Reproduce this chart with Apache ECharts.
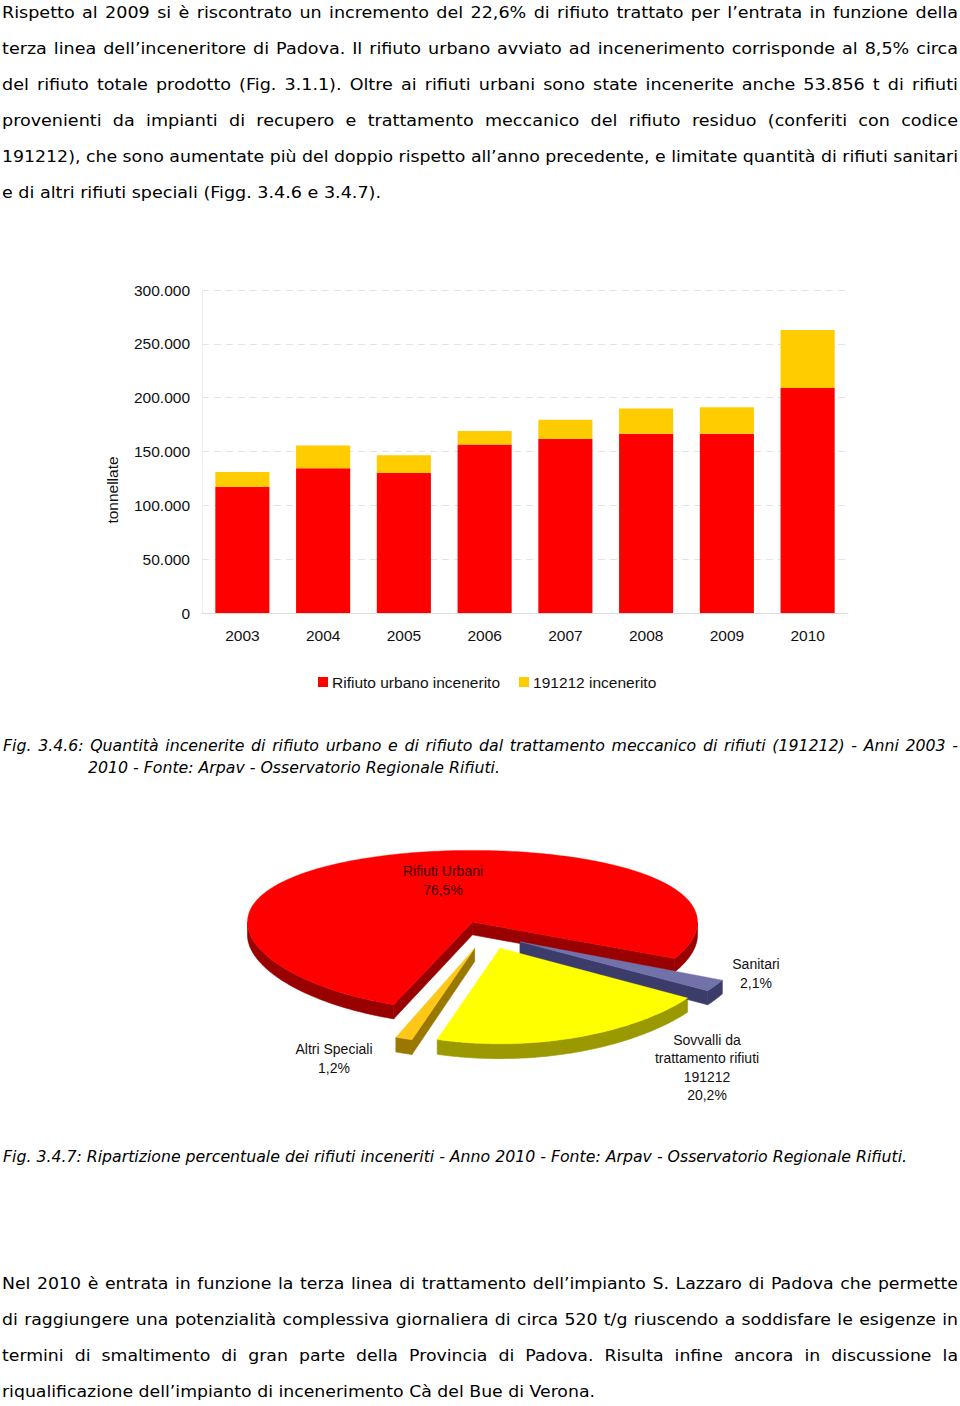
<!DOCTYPE html>
<html>
<head>
<meta charset="utf-8">
<script src="https://cdn.jsdelivr.net/npm/echarts/dist/echarts.min.js"></script>
<style>
  html, body { margin: 0; padding: 0; background: #ffffff; }
  body { width: 960px; height: 1406px; position: relative; overflow: hidden; }
  #chart { position: absolute; left: 0; top: 0; width: 960px; height: 1406px; }
  .ln { position: absolute; white-space: nowrap; font-family: 'DejaVu Sans', sans-serif; font-size: 16px;
        line-height: 20px; height: 20px; color: #000; transform-origin: 0 50%; }
  .it { font-style: italic; }
</style>
</head>
<body>
<div id="chart"></div>
<script>
// ---------------- DATA ----------------
const years = ['2003', '2004', '2005', '2006', '2007', '2008', '2009', '2010'];
const rifiutoUrbano = [117000, 134500, 130000, 156500, 161500, 166500, 166500, 209000];
const incenerito191212 = [14000, 21000, 16500, 12500, 18000, 23500, 24500, 53856];
const barSeriesNames = ['Rifiuto urbano incenerito', '191212 incenerito'];
const yTicks = [0, 50000, 100000, 150000, 200000, 250000, 300000];
const yAxisTitle = 'tonnellate';

const pieNames = ['Rifiuti Urbani', 'Sanitari', 'Sovvalli da\ntrattamento rifiuti\n191212', 'Altri Speciali'];
const pieShares = [76.5, 2.1, 20.2, 1.2];

// ---------------- TEXT ----------------
const para1Lines = [
  'Rispetto al 2009 si è riscontrato un incremento del 22,6% di rifiuto trattato per l’entrata in funzione della',
  'terza linea dell’inceneritore di Padova. Il rifiuto urbano avviato ad incenerimento corrisponde al 8,5% circa',
  'del rifiuto totale prodotto (Fig. 3.1.1). Oltre ai rifiuti urbani sono state incenerite anche 53.856 t di rifiuti',
  'provenienti da impianti di recupero e trattamento meccanico del rifiuto residuo (conferiti con codice',
  '191212), che sono aumentate più del doppio rispetto all’anno precedente, e limitate quantità di rifiuti sanitari',
  'e di altri rifiuti speciali (Figg. 3.4.6 e 3.4.7).'
];
const caption1Lines = [
  'Fig. 3.4.6: Quantità incenerite di rifiuto urbano e di rifiuto dal trattamento meccanico di rifiuti (191212) - Anni 2003 -',
  '2010 - Fonte: Arpav - Osservatorio Regionale Rifiuti.'
];
const caption2Lines = [
  'Fig. 3.4.7: Ripartizione percentuale dei rifiuti inceneriti - Anno 2010 - Fonte: Arpav - Osservatorio Regionale Rifiuti.'
];
const para2Lines = [
  'Nel 2010 è entrata in funzione la terza linea di trattamento dell’impianto S. Lazzaro di Padova che permette',
  'di raggiungere una potenzialità complessiva giornaliera di circa 520 t/g riuscendo a soddisfare le esigenze in',
  'termini di smaltimento di gran parte della Provincia di Padova. Risulta infine ancora in discussione la',
  'riqualificazione dell’impianto di incenerimento Cà del Bue di Verona.'
];

// ---------------- TEXT LAYOUT ----------------
function rowsFor(lines, y0, step, x0s, x1s, lastJustify) {
  return lines.map((t, i) => ({
    text: t, y: y0 + i * step,
    x0: x0s[Math.min(i, x0s.length - 1)],
    x1: x1s[Math.min(i, x1s.length - 1)],
    justify: i < lines.length - 1 || lastJustify
  }));
}
const blocks = [
  { italic: false, rows: rowsFor(para1Lines, 13, 35.9, [2], [958, 958, 958, 958, 958, 381], false) },
  { italic: true, rows: rowsFor(caption1Lines, 746, 22, [3, 88], [958, 500], false) },
  { italic: true, rows: rowsFor(caption2Lines, 1157, 22, [3], [907], false) },
  { italic: false, rows: rowsFor(para2Lines, 1284, 36, [2], [958, 958, 958, 595], false) }
];
blocks.forEach(b => {
  const els = b.rows.map(r => {
    const d = document.createElement('div');
    d.className = 'ln' + (b.italic ? ' it' : '');
    d.textContent = r.text;
    d.style.left = r.x0 + 'px';
    d.style.top = (r.y - 10) + 'px';
    document.body.appendChild(d);
    return d;
  });
  const widths = els.map(e => e.getBoundingClientRect().width);
  const li = b.rows.length - 1;
  const s = (b.rows[li].x1 - b.rows[li].x0) / widths[li];
  b.rows.forEach((r, i) => {
    const target = r.x1 - r.x0;
    const w = widths[i];
    let sc = target / w;
    if (r.justify && w * s <= target) {
      const nSp = (r.text.match(/ /g) || []).length;
      if (nSp > 0) {
        els[i].style.wordSpacing = ((target - w * s) / (nSp * s)) + 'px';
        sc = s;
      }
    }
    els[i].style.transform = 'scaleX(' + sc + ')';
  });
});

// ---------------- CHART ----------------
const FONT = "'Liberation Sans', Arial, sans-serif";
const chart = echarts.init(document.getElementById('chart'), null, { renderer: 'svg', width: 960, height: 1406 });

// pie pseudo-3D projection: u = right, v = toward viewer, z = up (unit radius)
const PIE = { cx: 486.7, cy: 934.8, G: 225, K: 82.1, ax: 0.0, ay: 0.109, T: 13, explode: 0.17, start: 110.5 };
const pieTop = ['#FF0000', '#7272AA', '#FFFF00', '#FFC819'];
const pieSide = ['#990000', '#3C3C6A', '#9A9A00', '#9A7800'];
function project(u, v, z) {
  const fx = 1 / (1 - PIE.ax * v), fy = 1 / (1 - PIE.ay * v);
  return [PIE.cx + PIE.G * u * fx, PIE.cy + (PIE.K * v - PIE.T * z) * fy];
}
const pieTotal = pieShares.reduce((a, b) => a + b, 0);
function renderSlice(params, api) {
  const i = params.dataIndex;
  let acc = 0;
  for (let k = 0; k < i; k++) acc += pieShares[k];
  const a = PIE.start + acc / pieTotal * 360;
  const b = a + api.value(1) / pieTotal * 360;
  const rad = Math.PI / 180;
  const mid = (a + b) / 2 * rad;
  const ou = PIE.explode * Math.cos(mid), ov = PIE.explode * Math.sin(mid);
  const P = (deg, rho, z) => project(ou + rho * Math.cos(deg * rad), ov + rho * Math.sin(deg * rad), z);
  const arc = (from, to, z) => {
    const n = Math.max(2, Math.ceil(to - from));
    const pts = [];
    for (let j = 0; j <= n; j++) pts.push(P(from + (to - from) * j / n, 1, z));
    return pts;
  };
  const side = pieSide[i], top = pieTop[i];
  const children = [];
  for (let k = 0; k < 3; k++) {
    const lo = Math.max(a, 360 * k), hi = Math.min(b, 360 * k + 180);
    if (hi > lo) {
      children.push({ type: 'polygon', z2: 2,
        shape: { points: arc(lo, hi, 0).concat(arc(lo, hi, -1).reverse()) },
        style: { fill: side, stroke: side, lineWidth: 0.6 } });
    }
  }
  const face = t => ({ type: 'polygon', z2: 3,
    shape: { points: [P(t, 0, 0), P(t, 1, 0), P(t, 1, -1), P(t, 0, -1)] },
    style: { fill: side, stroke: side, lineWidth: 0.6 } });
  if (Math.cos(a * rad) < 0) children.push(face(a));
  if (Math.cos(b * rad) > 0) children.push(face(b));
  children.push({ type: 'polygon', z2: 10,
    shape: { points: [P(a, 0, 0)].concat(arc(a, b, 0)) },
    style: { fill: top, stroke: top, lineWidth: 0.4 } });
  return { type: 'group', children: children };
}

const pieLabelPos = [[443, 880.5], [756, 973.5], [707, 1067.5], [334, 1058.5]];
const pieLabelColor = ['#3d0000', '#111', '#111', '#111'];
const fmtPct = v => v.toFixed(1).replace('.', ',') + '%';
const fmtThousands = v => String(v).replace(/\B(?=(\d{3})+(?!\d))/g, '.');

const graphics = [
  { type: 'text', x: 112, y: 490, rotation: Math.PI / 2,
    style: { text: yAxisTitle, font: "15.5px " + FONT, fill: '#111', textAlign: 'center', textVerticalAlign: 'middle' } }
].concat(pieNames.map((n, i) => ({
  type: 'text', x: pieLabelPos[i][0], y: pieLabelPos[i][1], z: 20,
  style: { text: n + '\n' + fmtPct(pieShares[i]), font: "14px " + FONT, lineHeight: 18.5,
    fill: pieLabelColor[i], textAlign: 'center', textVerticalAlign: 'middle' }
})));

chart.setOption({
  animation: false,
  textStyle: { fontFamily: FONT },
  grid: { left: 202, right: 112, top: 290, bottom: 793 },
  legend: {
    left: 318, top: 674, padding: 0, itemWidth: 10, itemHeight: 10, itemGap: 19, icon: 'rect',
    textStyle: { fontSize: 15.5, color: '#111', fontFamily: FONT, padding: [0, 0, 0, -1] },
    data: barSeriesNames
  },
  xAxis: {
    type: 'category', data: years,
    axisTick: { show: false },
    axisLine: { lineStyle: { color: '#dcdcdc' } },
    axisLabel: { color: '#111', fontSize: 15.5, margin: 14, fontFamily: FONT }
  },
  yAxis: {
    type: 'value', min: yTicks[0], max: yTicks[yTicks.length - 1], interval: yTicks[1] - yTicks[0],
    axisLine: { show: true, lineStyle: { color: '#eeeeee' } },
    axisTick: { show: false },
    splitLine: { lineStyle: { color: '#e3e3e3', type: [7, 5] } },
    axisLabel: { color: '#111', fontSize: 15.5, margin: 12, fontFamily: FONT, formatter: v => fmtThousands(v) }
  },
  graphic: graphics,
  series: [
    { name: barSeriesNames[0], type: 'bar', stack: 'tot', data: rifiutoUrbano, barWidth: '67%',
      itemStyle: { color: '#FF0000' } },
    { name: barSeriesNames[1], type: 'bar', stack: 'tot', data: incenerito191212, barWidth: '67%',
      itemStyle: { color: '#FFCC00' } },
    { type: 'custom', coordinateSystem: 'none', silent: true, renderItem: renderSlice,
      data: pieShares.map((v, i) => [i, v]) }
  ]
});
</script>
</body>
</html>
